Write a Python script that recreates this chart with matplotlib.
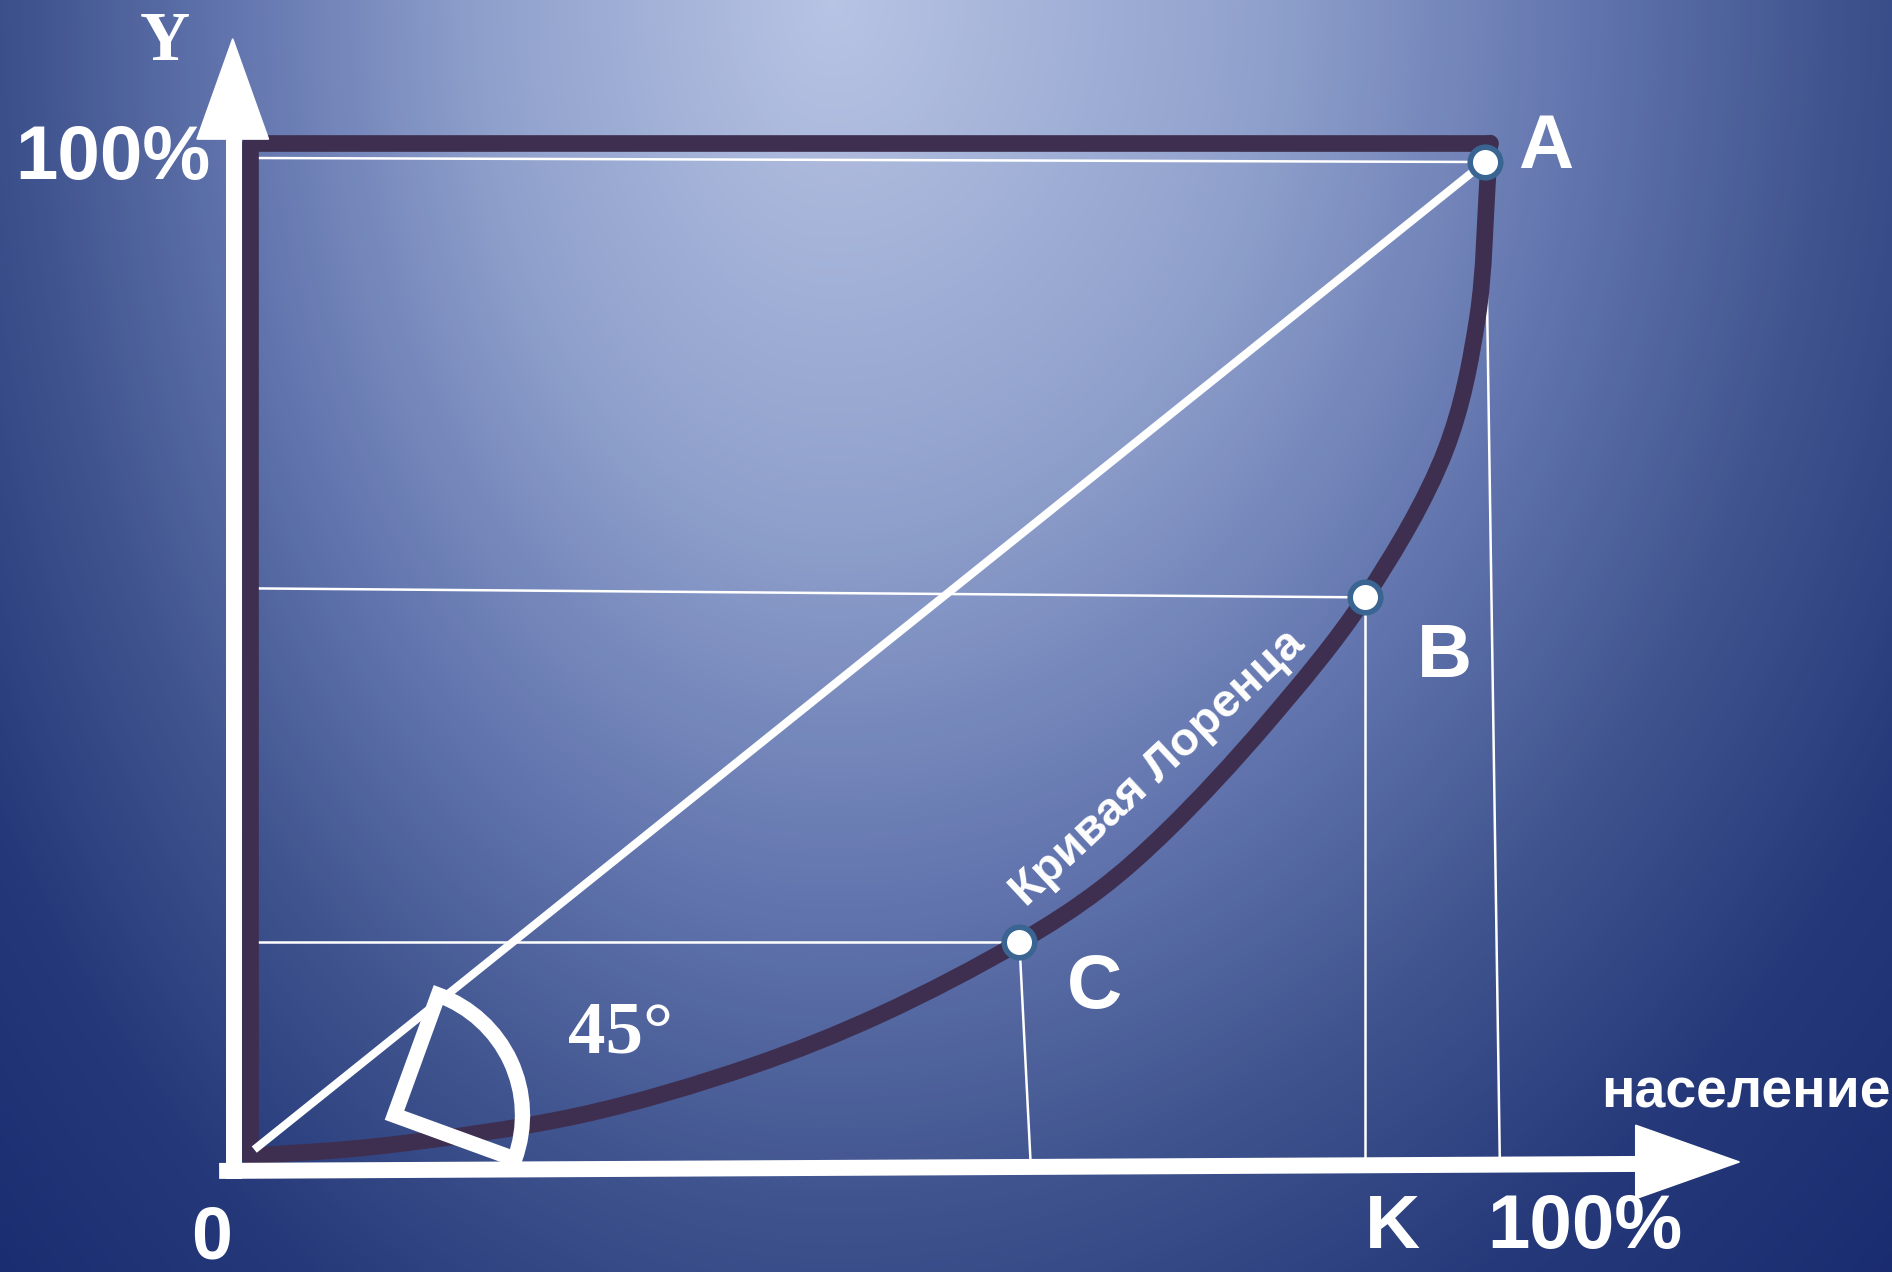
import numpy as np
import matplotlib
matplotlib.use("Agg")
import matplotlib.pyplot as plt
from matplotlib.colors import LinearSegmentedColormap
from matplotlib.patches import Polygon, Wedge, PathPatch
from matplotlib.path import Path
from matplotlib.transforms import Affine2D

# Lorenz curve (% population, % income)
pop = [0.0, 10.5, 26.7, 40.5, 51.0, 62.3, 68.8, 74.3, 82.3, 90.3, 96.8, 99.4, 100.2, 100.4]
income = [0.0, 1.0, 4.1, 9.0, 14.2, 21.5, 26.8, 32.8, 43.5, 56.2, 71.0, 84.4, 97.9, 101.9]

# marked points on the curve
point_names = ["A", "B", "C"]
point_x = [100.0, 90.3, 62.3]
point_y = [100.0, 56.2, 21.5]
# ends of the thin guide lines on the two axes
foot_x = [101.2, 90.3, 63.2]
foot_y = [100.4, 57.1, 21.5]

# line of perfect equality
equal_x = [0.6, 100.0]
equal_y = [0.9, 100.0]

dark = "#3e2f50"
W_PX, H_PX = 1892, 1272
sx, sy = 12.35, 9.94      # pixels per data unit
x0, y0 = 250, 1156        # pixel position of the origin


def smooth_path(xs, ys):
    # centripetal Catmull-Rom through the read points, as cubic Bezier segments
    p = np.column_stack([np.asarray(xs) * sx, np.asarray(ys) * sy])
    p = np.vstack([2 * p[0] - p[1], p, 2 * p[-1] - p[-2]])
    verts = [p[1]]
    codes = [Path.MOVETO]
    for i in range(1, len(p) - 2):
        p0, p1, p2, p3 = p[i - 1], p[i], p[i + 1], p[i + 2]
        d1 = np.linalg.norm(p1 - p0) ** 0.5
        d2 = np.linalg.norm(p2 - p1) ** 0.5
        d3 = np.linalg.norm(p3 - p2) ** 0.5
        m1 = (p1 - p0) / d1 - (p2 - p0) / (d1 + d2) + (p2 - p1) / d2
        m2 = (p2 - p1) / d2 - (p3 - p1) / (d2 + d3) + (p3 - p2) / d3
        m1 *= d2
        m2 *= d2
        verts += [p1 + m1 / 3, p2 - m2 / 3, p2]
        codes += [Path.CURVE4] * 3
    verts = np.array(verts) / [sx, sy]
    return Path(verts, codes)


fig = plt.figure(figsize=(W_PX / 100, H_PX / 100), dpi=100)
ax = fig.add_axes([0, 0, 1, 1])
xmin, xmax = -x0 / sx, (W_PX - x0) / sx
ymin, ymax = -(H_PX - y0) / sy, y0 / sy
ax.set_xlim(xmin, xmax)
ax.set_ylim(ymin, ymax)
ax.axis("off")

# background: light glow at the top, dark navy at the edges
h, w = 318, 473
yy, xx = np.mgrid[0:h, 0:w]
px = xx * W_PX / w
py = yy * H_PX / h
rx = np.where(px < 830, 1000, 1250)
t = np.clip(np.sqrt(((px - 830) / rx) ** 2 + (py / 1500) ** 2), 0, 1.3)
bg = LinearSegmentedColormap.from_list(
    "bg", [(0, "#b8c4e4"), (0.35 / 1.3, "#8fa0cc"), (0.6 / 1.3, "#6275ae"),
           (0.8 / 1.3, "#40548f"), (1.0 / 1.3, "#25397a"), (1, "#14266a")])
ax.imshow(t, cmap=bg, vmin=0, vmax=1.3, extent=[xmin, xmax, ymin, ymax],
          origin="upper", aspect="auto", interpolation="bilinear", zorder=0)

# thin guide lines from the points to the axes
for i in range(len(point_x)):
    ax.plot([0.6, point_x[i]], [foot_y[i], point_y[i]], color="white", lw=1.8, zorder=2)
    ax.plot([point_x[i], foot_x[i]], [point_y[i], -0.5], color="white", lw=1.8, zorder=2)

# frame + Lorenz curve
ax.plot([pop[0], pop[0], pop[-1]], [income[0], income[-1], income[-1]],
        color=dark, lw=12, solid_joinstyle="round", solid_capstyle="round", zorder=3)
ax.add_patch(PathPatch(smooth_path(pop, income), fill=False, edgecolor=dark, lw=12,
                       capstyle="round", joinstyle="round", zorder=3))

ax.plot(equal_x, equal_y, color="white", lw=5.8, zorder=4)

# axes with arrows
ax.plot([-1.3, -1.3], [-2.3, 102.3], color="white", lw=11.5, solid_capstyle="butt", zorder=5)
ax.add_patch(Polygon([(-4.3, 102.3), (1.5, 102.3), (-1.4, 112.4)],
                     closed=True, color="white", zorder=5))
ax.plot([-2.5, 112.2], [-1.5, -0.8], color="white", lw=11.5, solid_capstyle="butt", zorder=5)
ax.add_patch(Polygon([(112.2, 3.1), (112.2, -4.3), (120.6, -0.6)],
                     closed=True, color="white", zorder=5))

# 45 degree angle mark (drawn in pixel units, placed in data space)
wtrans = Affine2D().scale(1 / sx, 1 / sy).translate(11.7, 4.1) + ax.transData
ax.add_patch(Wedge((0, 0), 128, -20, 70, fill=False, edgecolor="white", lw=11,
                   joinstyle="miter", transform=wtrans, zorder=6))

ax.plot(point_x, point_y, "o", ms=22, mfc="white", mec="#3a6592", mew=4, zorder=7)

sans = dict(color="white", fontfamily="Liberation Sans", fontweight="bold",
            ha="center", va="baseline", zorder=8)
serif = dict(color="white", fontfamily="Liberation Serif", fontweight="bold",
             ha="center", va="baseline", zorder=8)

ax.text(-11.1, 98.3, "100%", fontsize=55, **sans)
ax.text(108.1, -9.3, "100%", fontsize=55, **sans)
ax.text(92.5, -9.3, "K", fontsize=55, **sans)
ax.text(-3.1, -10.3, "0", fontsize=53, **sans)
ax.text(104.9, 99.4, point_names[0], fontsize=55, **sans)
ax.text(96.7, 48.2, point_names[1], fontsize=55, **sans)
ax.text(68.4, 14.9, point_names[2], fontsize=55, **sans)
ax.text(121.1, 4.9, "население", fontsize=40, **sans)
ax.text(-6.9, 110.3, "Y", fontsize=50, **serif)
ax.text(30.0, 10.4, "45°", fontsize=54, **serif)
ax.text(73.5, 39.0, "Кривая Лоренца", fontsize=34, rotation=43,
        rotation_mode="anchor", color="white", fontfamily="Liberation Sans",
        fontweight="bold", ha="center", va="center", zorder=8)

fig.savefig("out.png", dpi=100)
